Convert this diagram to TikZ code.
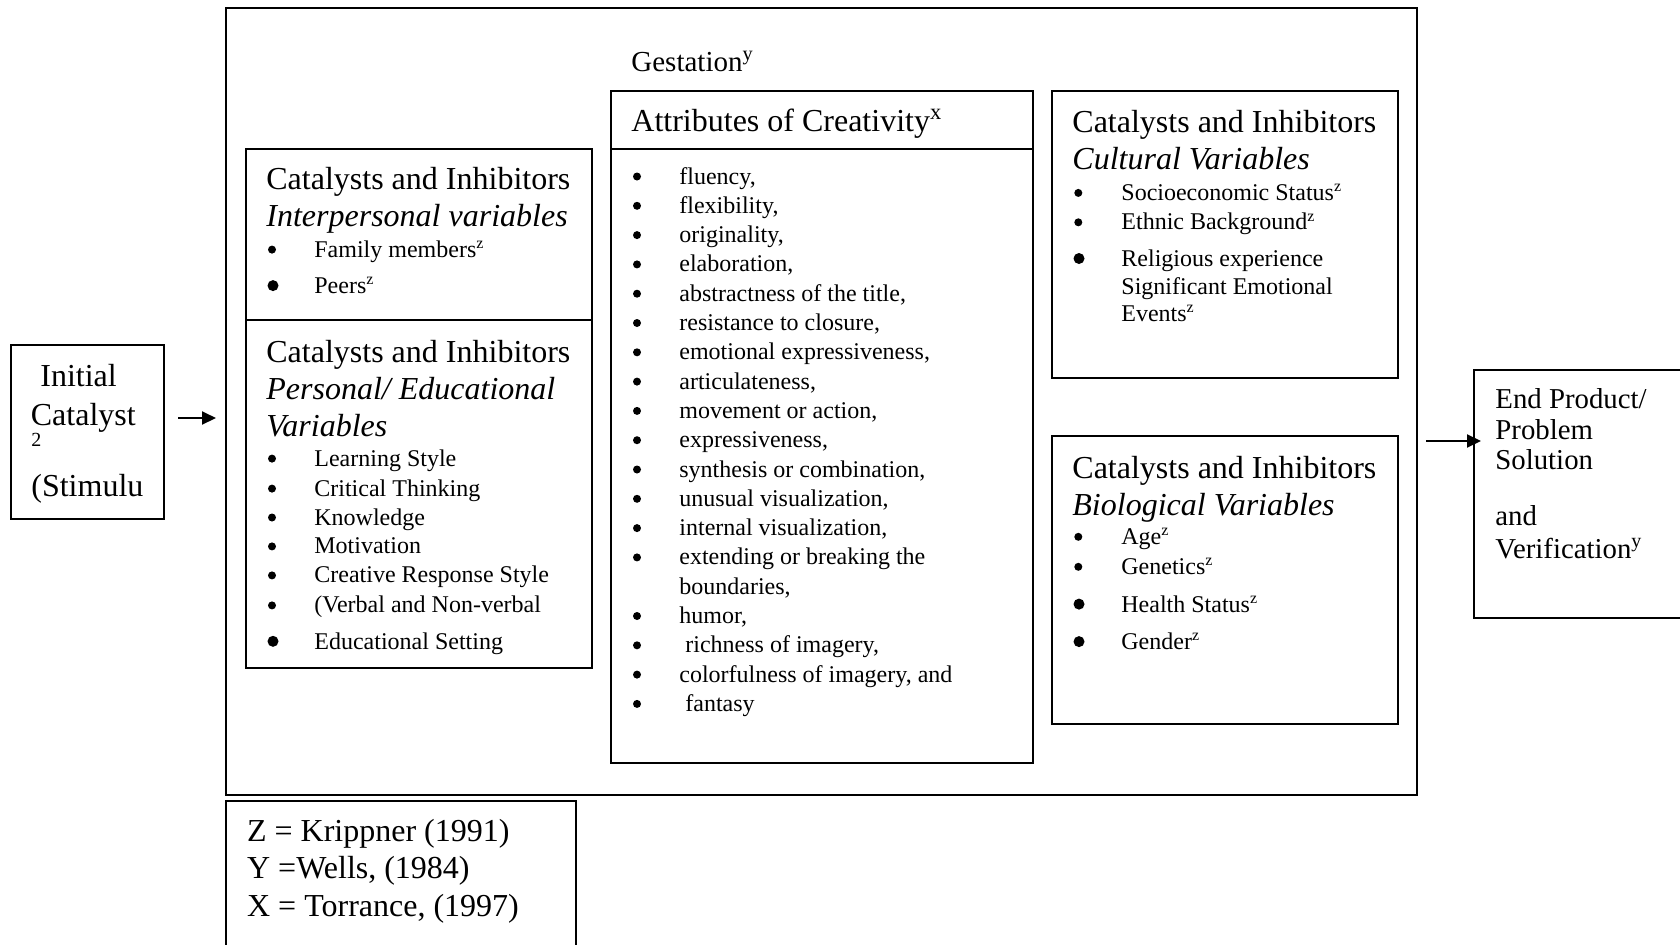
\documentclass[tikz,border=0pt]{standalone}
\usepackage{fontspec}
\setmainfont{Liberation Serif}
\usetikzlibrary{fit,arrows.meta}
\newcommand\mkitem[5]{%
  \node[sbul] (#1b) at (#2,#4-7.5) {};
  \node[itm] (#1) at (#3,#4) {#5};}
\newcommand\mkItem[5]{%
  \node[bbul] (#1b) at (#2,#4-8) {};
  \node[itm] (#1) at (#3,#4) {#5};}
\begin{document}
\begin{tikzpicture}[x=0.5pt,y=-0.5pt,
  box/.style={draw, line width=1pt, inner sep=0pt},
  hd/.style={anchor=base west, inner sep=0pt, font=\fontsize{16}{19}\selectfont},
  hdi/.style={anchor=base west, inner sep=0pt, font=\fontsize{16}{19}\selectfont\itshape},
  itm/.style={anchor=base west, inner sep=0pt, font=\fontsize{12}{14}\selectfont},
  mid/.style={anchor=base west, inner sep=0pt, font=\fontsize{14.4}{17}\selectfont},
  sbul/.style={circle, fill=black, inner sep=0pt, minimum size=4pt},
  bbul/.style={circle, fill=black, inner sep=0pt, minimum size=5.5pt},
  arr/.style={line width=1pt, -{Triangle[length=7pt,width=6.5pt]}}]
\useasboundingbox (0,0) rectangle (1680,944);
\clip (0,0) rectangle (1680,944);
\fill[white] (0,0) rectangle (1680,944);

% boxes
\node[box, fit={(226,8) (1417,795)}] (outer) {};
\node[box, fit={(11,345) (164,519)}] (init) {};
\node[box, fit={(1474,370) (1700,618)}] (endp) {};
\node[box, fit={(246,149) (592,320)}] (inter) {};
\node[box, fit={(246,320) (592,668)}] (pers) {};
\node[box, fit={(611,91) (1033,149)}] (attrh) {};
\node[box, fit={(611,149) (1033,763)}] (attrb) {};
\node[box, fit={(1052,91) (1398,378)}] (cult) {};
\node[box, fit={(1052,436) (1398,724)}] (bio) {};
\node[box, fit={(226,801) (576,960)}] (legend) {};

% arrows
\coordinate (ya) at (0,418);
\coordinate (yb) at (0,441);
\draw[arr, shorten <=6.5pt, shorten >=4.5pt] (init.east |- ya) -- (outer.west |- ya);
\draw[arr, shorten <=4pt, shorten >=-4pt] (outer.east |- yb) -- (endp.west |- yb);

% initial catalyst
\node[hd] (i1) at (40,386.7) {Initial};
\node[hd] (i2) at (30.5,425) {Catalyst};
\node[anchor=base west, inner sep=0pt, font=\fontsize{10}{11}\selectfont] (i3) at (31,446) {2};
\node[hd] (i4) at (31,496) {(Stimulu};

% end product
\node[mid] (e1) at (1495,408.2) {End Product/};
\node[mid] (e2) at (1495,439.2) {Problem};
\node[mid] (e3) at (1495,469.1) {Solution};
\node[mid] (e4) at (1495,525.7) {and};
\node[mid] (e5) at (1495,558.2) {Verification\textsuperscript{y}};

% interpersonal
\node[hd] (ih1) at (266,189.3) {Catalysts and Inhibitors};
\node[hdi] (ih2) at (266,226) {Interpersonal variables};
\mkitem{ia}{272}{314}{257.1}{Family members\textsuperscript{z}}
\mkItem{ib}{273}{314}{293.6}{Peers\textsuperscript{z}}

% personal / educational
\node[hd] (ph1) at (266,362.9) {Catalysts and Inhibitors};
\node[hdi] (ph2) at (266,399.5) {Personal/ Educational};
\node[hdi] (ph3) at (266,436) {Variables};
\mkitem{pa}{272}{314}{466.1}{Learning Style}
\mkitem{pb}{272}{314}{496.1}{Critical Thinking}
\mkitem{pc}{272}{314}{525}{Knowledge}
\mkitem{pd}{272}{314}{553.9}{Motivation}
\mkitem{pe}{272}{314}{582.9}{Creative Response Style}
\mkitem{pf}{272}{314}{612.9}{(Verbal and Non-verbal}
\mkItem{pg}{273}{314}{649.3}{Educational Setting}

% gestation / attributes
\node[anchor=base west, inner sep=0pt, font=\fontsize{14.5}{17}\selectfont] (gest) at (631,71) {Gestation\textsuperscript{y}};
\node[hd] (ah) at (631,131.6) {Attributes of Creativity\textsuperscript{x}};
\mkitem{a0}{637}{679}{184.0}{fluency,}
\mkitem{a1}{637}{679}{213.3}{flexibility,}
\mkitem{a2}{637}{679}{242.6}{originality,}
\mkitem{a3}{637}{679}{271.9}{elaboration,}
\mkitem{a4}{637}{679}{301.2}{abstractness of the title,}
\mkitem{a5}{637}{679}{330.5}{resistance to closure,}
\mkitem{a6}{637}{679}{359.8}{emotional expressiveness,}
\mkitem{a7}{637}{679}{389.1}{articulateness,}
\mkitem{a8}{637}{679}{418.4}{movement or action,}
\mkitem{a9}{637}{679}{447.7}{expressiveness,}
\mkitem{a10}{637}{679}{477.0}{synthesis or combination,}
\mkitem{a11}{637}{679}{506.3}{unusual visualization,}
\mkitem{a12}{637}{679}{535.6}{internal visualization,}
\mkitem{a13}{637}{679}{564.9}{extending or breaking the}
\node[itm] (a13b2) at (679,594.2) {boundaries,};
\mkitem{a15}{637}{679}{623.5}{humor,}
\mkitem{a16}{637}{685}{652.8}{richness of imagery,}
\mkitem{a17}{637}{679}{682.1}{colorfulness of imagery, and}
\mkitem{a18}{637}{685}{711.4}{fantasy}

% cultural
\node[hd] (ch1) at (1072,132.4) {Catalysts and Inhibitors};
\node[hdi] (ch2) at (1072,169) {Cultural Variables};
\mkitem{ca}{1078.3}{1121}{200.4}{Socioeconomic Status\textsuperscript{z}}
\mkitem{cb}{1078.3}{1121}{229.8}{Ethnic Background\textsuperscript{z}}
\mkItem{cc}{1079}{1121}{266.5}{Religious experience}
\node[itm] (cd) at (1121,294.3) {Significant Emotional};
\node[itm] (ce) at (1121,321) {Events\textsuperscript{z}};

% biological
\node[hd] (bh1) at (1072,478.4) {Catalysts and Inhibitors};
\node[hdi] (bh2) at (1072,515.2) {Biological Variables};
\mkitem{ba}{1078.3}{1121}{544.3}{Age\textsuperscript{z}}
\mkitem{bb}{1078.3}{1121}{574.3}{Genetics\textsuperscript{z}}
\mkItem{bc}{1079}{1121}{612.1}{Health Status\textsuperscript{z}}
\mkItem{bd}{1079}{1121}{649.6}{Gender\textsuperscript{z}}

% legend
\node[hd] (l1) at (246.7,841.3) {Z = Krippner (1991)};
\node[hd] (l2) at (246.7,878.4) {Y =Wells, (1984)};
\node[hd] (l3) at (246.7,916.1) {X = Torrance, (1997)};
\end{tikzpicture}
\end{document}
